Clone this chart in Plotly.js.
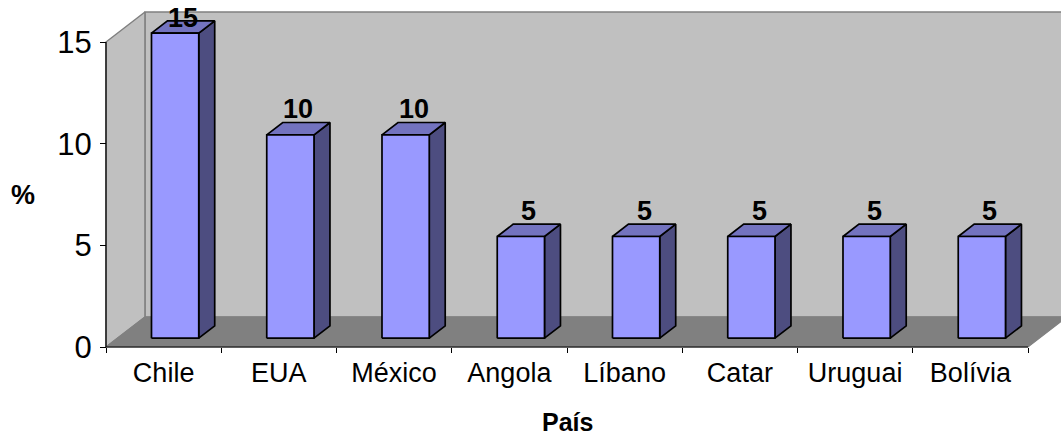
<!DOCTYPE html>
<html>
<head>
<meta charset="utf-8">
<script src="https://cdn.plot.ly/plotly-3.0.1.min.js"></script>
<style>
  html, body { margin: 0; padding: 0; background: #ffffff; }
  #chart { width: 1061px; height: 438px; }
</style>
</head>
<body>
<div id="chart"></div>
<script>
// Country shares (%) shown as 3D columns
const categories = ['Chile', 'EUA', 'México', 'Angola', 'Líbano', 'Catar', 'Uruguai', 'Bolívia'];
const percentages = [15, 10, 10, 5, 5, 5, 5, 5];
const yTickValues = [0, 5, 10, 15];
const valueAxisTitle = '%';
const categoryAxisTitle = 'País';

// ---- box geometry (front plane in data units, depth as an oblique shift) ----
const N = categories.length;
const WALL_TOP = 15;          // height of the back/side walls
const DEPTH_X = 0.338;        // horizontal shift from front to back (category units)
const DEPTH_Y = 1.475;        // vertical shift from front to back (value units)
const BAR_W = 0.41;           // column width as a fraction of a category slot
const BAR_D0 = 0.295, BAR_D1 = 0.705;  // column front/back depth

// pixel frame of the front plane
const W = 1061, H = 438;
const M = { l: 96, r: 0, t: 8, b: 86 };
const FRONT_LEFT_PX = 106, FRONT_RIGHT_PX = 1028, ZERO_PX = 347, TOP_PX = 42;
const pxPerX = (FRONT_RIGHT_PX - FRONT_LEFT_PX) / N;
const pxPerY = (ZERO_PX - TOP_PX) / WALL_TOP;
const plotW = W - M.l - M.r, plotH = H - M.t - M.b;
const xMin = -(FRONT_LEFT_PX - M.l) / pxPerX;
const xMax = xMin + plotW / pxPerX;
const yMin = -((H - M.b) - ZERO_PX) / pxPerY;
const yMax = yMin + plotH / pxPerY;

const FONT = 'Liberation Sans, Arial, Helvetica, sans-serif';
const COL_FRONT = '#9999FF', COL_TOP = '#7373BF', COL_SIDE = '#4D4D80';
const COL_WALL = '#C0C0C0', COL_FLOOR = '#808080', COL_EDGE = '#808080';

function proj(x, y, d) { return [x + d * DEPTH_X, y + d * DEPTH_Y]; }

// collect closed polygons into one trace, separated by gaps
function polyTrace(polys, fill, lineColor, lineWidth) {
  const xs = [], ys = [];
  polys.forEach((p, k) => {
    if (k > 0) { xs.push(null); ys.push(null); }
    p.concat([p[0]]).forEach(pt => { xs.push(pt[0]); ys.push(pt[1]); });
  });
  return {
    type: 'scatter', mode: 'lines', x: xs, y: ys,
    fill: 'toself', fillcolor: fill,
    line: { color: lineColor, width: lineWidth },
    hoverinfo: 'skip', showlegend: false
  };
}
function lineTrace(pts, color, width) {
  return {
    type: 'scatter', mode: 'lines',
    x: pts.map(p => p[0]), y: pts.map(p => p[1]),
    line: { color: color, width: width },
    hoverinfo: 'skip', showlegend: false
  };
}

const traces = [];

// walls and floor
traces.push(polyTrace([[proj(0, 0, 1), proj(N, 0, 1), proj(N, WALL_TOP, 1), proj(0, WALL_TOP, 1)]],
  COL_WALL, COL_EDGE, 1.5));
traces.push(polyTrace([[proj(0, 0, 0), proj(0, 0, 1), proj(0, WALL_TOP, 1), proj(0, WALL_TOP, 0)]],
  COL_WALL, COL_EDGE, 1.5));
traces.push(polyTrace([[proj(0, 0, 0), proj(N, 0, 0), proj(N, 0, 1), proj(0, 0, 1)]],
  COL_FLOOR, COL_EDGE, 1.2));

// front axis lines
traces.push(lineTrace([proj(0, 0, 0), proj(0, WALL_TOP, 0)], '#000000', 1.2));
traces.push(lineTrace([proj(0, 0, 0), proj(N, 0, 0)], '#000000', 1.2));

// columns: front, top and right side faces
const fronts = [], tops = [], sides = [];
percentages.forEach((v, i) => {
  const xl = i + 0.5 - BAR_W / 2, xr = i + 0.5 + BAR_W / 2;
  fronts.push([proj(xl, 0, BAR_D0), proj(xr, 0, BAR_D0), proj(xr, v, BAR_D0), proj(xl, v, BAR_D0)]);
  tops.push([proj(xl, v, BAR_D0), proj(xr, v, BAR_D0), proj(xr, v, BAR_D1), proj(xl, v, BAR_D1)]);
  sides.push([proj(xr, 0, BAR_D0), proj(xr, 0, BAR_D1), proj(xr, v, BAR_D1), proj(xr, v, BAR_D0)]);
});
traces.push(polyTrace(sides, COL_SIDE, '#000000', 1.7));
traces.push(polyTrace(tops, COL_TOP, '#000000', 1.7));
traces.push(polyTrace(fronts, COL_FRONT, '#000000', 1.7));

// carrier for the slot-boundary tick axis
traces.push({ type: 'scatter', mode: 'none', x: [0, N], y: [0, 0], xaxis: 'x2',
  hoverinfo: 'skip', showlegend: false });

// value labels above each column
const annotations = percentages.map((v, i) => {
  const top = proj(i + 0.5, v, 0.5);
  return {
    x: top[0], y: Math.min(top[1] + 0.95, WALL_TOP + DEPTH_Y - 0.3),
    xref: 'x', yref: 'y', text: String(v), showarrow: false,
    xanchor: 'center', yanchor: 'middle',
    font: { family: FONT, size: 27, color: '#000000', weight: 'bold' }
  };
});
annotations.push({
  x: 0, y: WALL_TOP / 2, xref: 'x', yref: 'y', xshift: -83,
  text: valueAxisTitle, showarrow: false, xanchor: 'center', yanchor: 'middle',
  font: { family: FONT, size: 27, color: '#000000', weight: 'bold' }
});
annotations.push({
  x: N / 2, y: 0, xref: 'x', yref: 'y', yshift: -75, borderpad: 0,
  text: categoryAxisTitle, showarrow: false, xanchor: 'center', yanchor: 'middle',
  font: { family: FONT, size: 25, color: '#000000', weight: 'bold' }
});

const xPos = ((H - M.b) - ZERO_PX) / plotH;
const yPos = (FRONT_LEFT_PX - M.l) / plotW;

const layout = {
  width: W, height: H, margin: M,
  paper_bgcolor: '#ffffff', plot_bgcolor: '#ffffff',
  showlegend: false,
  font: { family: FONT, color: '#000000' },
  xaxis: {
    range: [xMin, xMax], anchor: 'free', position: xPos,
    tickmode: 'array', tickvals: categories.map((c, i) => i + 0.5), ticktext: categories,
    ticks: '', showgrid: false, zeroline: false, showline: false,
    tickfont: { family: FONT, size: 27, color: '#000000' }, ticklabelstandoff: 7
  },
  xaxis2: {
    range: [xMin, xMax], overlaying: 'x', anchor: 'free', position: xPos, side: 'bottom',
    tickmode: 'array', tickvals: categories.map((c, i) => i).concat([N]),
    ticks: 'outside', ticklen: 5, tickwidth: 1, tickcolor: '#000000',
    showticklabels: false, showgrid: false, zeroline: false, showline: false
  },
  yaxis: {
    range: [yMin, yMax], anchor: 'free', position: yPos,
    tickmode: 'array', tickvals: yTickValues, ticktext: yTickValues.map(String),
    ticks: 'outside', ticklen: 6, tickwidth: 1, tickcolor: '#000000',
    showgrid: false, zeroline: false, showline: false, ticklabelstandoff: 2,
    tickfont: { family: FONT, size: 31, color: '#000000' }
  },
  annotations: annotations
};

Plotly.newPlot('chart', traces, layout, { staticPlot: true, displayModeBar: false });
</script>
</body>
</html>
